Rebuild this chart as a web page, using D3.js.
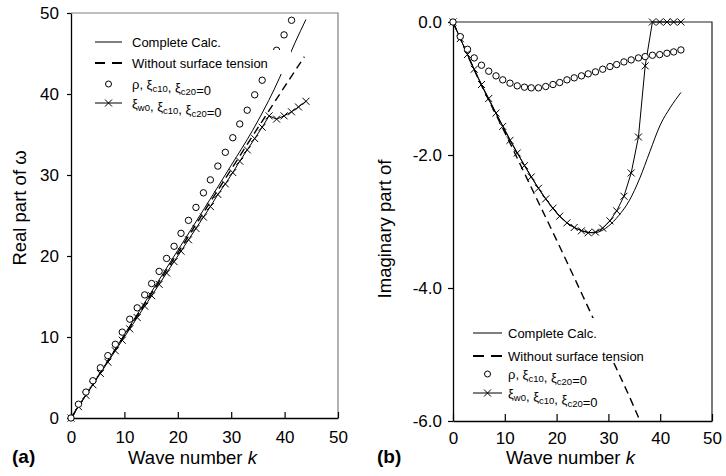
<!DOCTYPE html>
<html>
<head>
<meta charset="utf-8">
<script src="https://cdn.jsdelivr.net/npm/d3@7"></script>
<style>
  body { margin: 0; background: #fff; }
  svg text { font-family: "Liberation Sans", Arial, sans-serif; fill: #000; }
</style>
</head>
<body>
<svg id="chart" width="726" height="476"></svg>
<script>
// ---- data ----
const xTicks = [0, 10, 20, 30, 40, 50];
const realTicks = [0, 10, 20, 30, 40, 50];
const imagTicks = [0, -2, -4, -6];

// wave numbers of the marker points
const kPts = [0, 1.4, 2.8, 4.1, 5.5, 6.9, 8.3, 9.6, 11.0, 12.4, 13.8, 15.1, 16.5, 17.9, 19.3, 20.6,
  22.0, 23.4, 24.8, 26.1, 27.5, 28.9, 30.3, 31.6, 33.0, 34.4, 35.8, 37.1, 38.5, 39.9, 41.3, 42.6, 44.0];

// (a) real part
const realRho = [0, 1.7, 3.2, 4.6, 6.2, 7.7, 9.1, 10.6, 12.2, 13.6, 15.2, 16.6, 18.1, 19.7, 21.2, 22.8,
  24.4, 26.0, 27.8, 29.4, 31.1, 32.8, 34.6, 36.3, 38.0, 39.9, 41.7, 43.5, 45.4, 47.3, 49.1];
const realXiW = [0, 1.4, 2.8, 4.1, 5.5, 6.9, 8.3, 9.6, 11.0, 12.4, 13.8, 15.1, 16.5, 17.9, 19.3, 20.6,
  22.0, 23.4, 24.8, 26.1, 27.6, 28.9, 30.3, 31.7, 33.1, 34.5, 35.9, 37.3, 36.9, 37.3, 37.8, 38.4, 39.1];
const realCompleteK = [0, 5, 10, 15, 20, 25, 30, 34, 36, 38, 40, 42, 44];
const realComplete = [0, 5.1, 10.3, 15.5, 20.7, 25.9, 31.2, 35.5, 37.9, 40.5, 43.4, 46.4, 49.2];
const realNoTensionK = [0, 10, 20, 30, 40, 43.7];
const realNoTension = [0, 10.2, 20.4, 30.7, 40.9, 44.6];

// (b) imaginary part
const imagRho = [0, -0.22, -0.41, -0.54, -0.65, -0.74, -0.81, -0.87, -0.92, -0.96, -0.98, -0.99, -0.99,
  -0.97, -0.94, -0.91, -0.87, -0.84, -0.81, -0.78, -0.75, -0.71, -0.67, -0.64, -0.60, -0.57, -0.54,
  -0.52, -0.50, -0.49, -0.47, -0.45, -0.42];
const imagXiW = [0, -0.25, -0.49, -0.71, -0.94, -1.15, -1.37, -1.57, -1.78, -1.97, -2.16, -2.33, -2.50,
  -2.66, -2.80, -2.92, -3.02, -3.09, -3.14, -3.17, -3.16, -3.10, -2.99, -2.84, -2.62, -2.27, -1.73,
  -0.66, 0, 0, 0, 0, 0];
const imagCompleteK = [0, 2, 4, 6, 8, 10, 12, 14, 16, 18, 20, 22, 24, 26, 27, 28, 30, 32, 34, 36, 38, 40, 42, 44];
const imagComplete = [0, -0.35, -0.70, -1.03, -1.33, -1.62, -1.91, -2.18, -2.44, -2.67, -2.87, -3.02,
  -3.11, -3.16, -3.17, -3.16, -3.07, -2.91, -2.69, -2.36, -1.95, -1.55, -1.28, -1.06];
const imagNoTensionK = [0, 5, 10, 15, 20, 25, 30, 35, 36.1];
const imagNoTension = [0, -0.87, -1.66, -2.47, -3.28, -4.11, -4.95, -5.80, -6.0];

const zip = (ks, vs) => vs.map((v, i) => [ks[i], v]);

const svg = d3.select('#chart');
const crossPath = 'M-3.5,-3.5L3.5,3.5M-3.5,3.5L3.5,-3.5';

function drawPanel(p) {
  const x = d3.scaleLinear().domain([0, 50]).range([p.left, p.right]);
  const y = d3.scaleLinear().domain(p.yDomain).range([p.bottom, p.top]);
  const g = svg.append('g');

  // top + right frame
  g.append('path')
    .attr('d', `M${p.left},${p.top}H${p.right}V${p.bottom}`)
    .attr('fill', 'none')
    .attr('stroke', p.frameColor)
    .attr('stroke-width', 1.2);

  // x axis, ticks pointing in
  const xa = g.append('g')
    .attr('transform', `translate(0,${p.bottom})`)
    .call(d3.axisBottom(x).tickValues(xTicks).tickSizeInner(-p.xTick).tickSizeOuter(0).tickPadding(p.xPad));

  // y axis, ticks pointing out
  const ya = g.append('g')
    .attr('transform', `translate(${p.left},0)`)
    .call(d3.axisLeft(y).tickValues(p.yTicks).tickSizeInner(p.yTick).tickSizeOuter(0)
      .tickPadding(p.yPad).tickFormat(p.yFormat));

  [xa, ya].forEach(a => {
    a.select('.domain').attr('stroke', '#000').attr('stroke-width', 1.3);
    a.selectAll('.tick line').attr('stroke', '#000').attr('stroke-width', 1.2);
    a.selectAll('.tick text').style('font-size', '17px').attr('fill', '#000');
  });

  const smooth = d3.line().x(d => x(d[0])).y(d => y(d[1])).curve(d3.curveMonotoneX);
  const straight = d3.line().x(d => x(d[0])).y(d => y(d[1]));

  // without surface tension (dashed)
  g.append('path')
    .attr('d', smooth(p.noTension))
    .attr('fill', 'none').attr('stroke', '#000')
    .attr('stroke-width', 1.4).attr('stroke-dasharray', '8,5');

  // complete calc (solid)
  g.append('path')
    .attr('d', smooth(p.complete))
    .attr('fill', 'none').attr('stroke', '#000').attr('stroke-width', 1);

  // xi_w0 ... = 0 line with crosses
  g.append('path')
    .attr('d', straight(p.xiW))
    .attr('fill', 'none').attr('stroke', '#000').attr('stroke-width', 1);
  g.append('g').selectAll('path')
    .data(p.xiW).enter().append('path')
    .attr('transform', d => `translate(${x(d[0])},${y(d[1])})`)
    .attr('d', crossPath)
    .attr('stroke', '#000').attr('stroke-width', 1).attr('fill', 'none');

  // rho ... = 0 circles
  g.append('g').selectAll('circle')
    .data(p.rho).enter().append('circle')
    .attr('cx', d => x(d[0])).attr('cy', d => y(d[1]))
    .attr('r', 3.2)
    .attr('fill', '#fff').attr('stroke', '#000').attr('stroke-width', 1);

  // legend (white patch behind the first entries, as in the original)
  g.append('rect')
    .attr('x', p.legendBg[0]).attr('y', p.legendBg[1])
    .attr('width', p.legendBg[2]).attr('height', p.legendBg[3])
    .attr('fill', '#fff');

  const lg = g.append('g');
  const [sx0, sx1] = p.legendSample;
  const sxm = (sx0 + sx1) / 2;
  p.legendRows.forEach((ry, i) => {
    if (i === 0) {
      lg.append('line').attr('x1', sx0).attr('x2', sx1).attr('y1', ry).attr('y2', ry)
        .attr('stroke', '#000').attr('stroke-width', 1);
    } else if (i === 1) {
      lg.append('line').attr('x1', sx0).attr('x2', sx1).attr('y1', ry).attr('y2', ry)
        .attr('stroke', '#000').attr('stroke-width', 2)
        .attr('stroke-dasharray', `${(sx1 - sx0 - 7) / 2},7`);
    } else if (i === 2) {
      lg.append('circle').attr('cx', sxm).attr('cy', ry).attr('r', 3)
        .attr('fill', '#fff').attr('stroke', '#000');
    } else {
      lg.append('line').attr('x1', sx0).attr('x2', sx1).attr('y1', ry).attr('y2', ry)
        .attr('stroke', '#000').attr('stroke-width', 1);
      lg.append('path').attr('transform', `translate(${sxm},${ry})`).attr('d', crossPath)
        .attr('stroke', '#000').attr('fill', 'none');
    }
  });

  const tx = p.legendText;
  const addText = (ry, parts) => {
    const t = lg.append('text').attr('x', tx).attr('y', ry + 4.5).style('font-size', '13px');
    parts.forEach(([s, sub]) => {
      if (sub) {
        t.append('tspan').attr('dy', 3).style('font-size', '9.5px').text(s);
        t.append('tspan').attr('dy', -3).text('');
      } else {
        t.append('tspan').text(s);
      }
    });
  };
  addText(p.legendRows[0], [['Complete Calc.']]);
  addText(p.legendRows[1], [['Without surface tension']]);
  addText(p.legendRows[2], [['ρ, ξ'], ['c10', 1], [', ξ'], ['c20', 1], ['=0']]);
  addText(p.legendRows[3], [['ξ'], ['w0', 1], [', ξ'], ['c10', 1], [', ξ'], ['c20', 1], ['=0']]);

  // axis titles
  const xt = g.append('text')
    .attr('x', (p.left + p.right) / 2 - 12).attr('y', 464)
    .attr('text-anchor', 'middle').style('font-size', '18.5px');
  xt.append('tspan').text('Wave number ');
  xt.append('tspan').style('font-style', 'italic').text('k');

  g.append('text')
    .attr('transform', `translate(${p.yTitleX},${p.yTitleY}) rotate(-90)`)
    .attr('text-anchor', 'middle').style('font-size', '18.5px')
    .text(p.yTitle);

  g.append('text')
    .attr('x', p.tagX).attr('y', 463)
    .style('font-size', '19px').style('font-weight', 'bold')
    .text(p.tag);
}

drawPanel({
  left: 71, right: 338, top: 13, bottom: 418,
  yDomain: [0, 50], yTicks: realTicks, yFormat: d => d,
  xTick: 6, yTick: 4, yPad: 8, xPad: 13, frameColor: '#808080',
  complete: zip(realCompleteK, realComplete),
  noTension: zip(realNoTensionK, realNoTension),
  rho: zip(kPts, realRho),
  xiW: zip(kPts, realXiW),
  legendBg: [90, 50, 201, 24],
  legendSample: [95, 122], legendText: 132, legendRows: [42, 63, 84, 103],
  yTitleX: 26, yTitleY: 208, yTitle: 'Real part of ω',
  tagX: 12, tag: '(a)'
});

drawPanel({
  left: 453, right: 712, top: 22, bottom: 421,
  yDomain: [-6, 0], yTicks: imagTicks, yFormat: d => d.toFixed(1),
  xTick: 7, yTick: 5, yPad: 6, xPad: 11, frameColor: '#222',
  complete: zip(imagCompleteK, imagComplete),
  noTension: zip(imagNoTensionK, imagNoTension),
  rho: zip(kPts, imagRho),
  xiW: zip(kPts, imagXiW),
  legendBg: [470, 318, 146, 44],
  legendSample: [473, 502], legendText: 508, legendRows: [333, 356, 374, 393],
  yTitleX: 391, yTitleY: 229, yTitle: 'Imaginary part of',
  tagX: 377, tag: '(b)'
});
</script>
</body>
</html>
